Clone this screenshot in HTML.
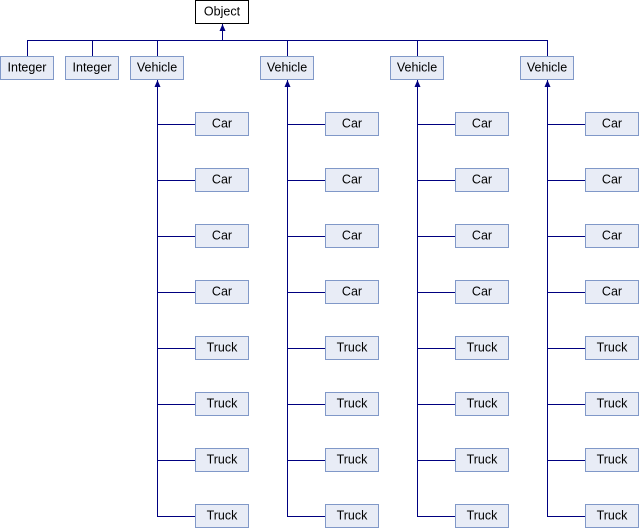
<!DOCTYPE html>
<html><head><style>html,body{margin:0;padding:0;background:#fff}svg{display:block}text{font-family:"Liberation Sans",sans-serif;font-size:12.5px;fill:#000}</style></head><body>
<svg width="640" height="528" viewBox="0 0 640 528" xmlns="http://www.w3.org/2000/svg" shape-rendering="crispEdges">
<defs>
<g id="col">
<line x1="27.5" y1="80" x2="27.5" y2="516" stroke="#000080"/>
<polygon points="27.5,80 24.5,87 30.5,87" fill="#000080" shape-rendering="auto"/>
<rect x="0.5" y="56.5" width="53" height="23" fill="#e8ecf6" stroke="#8098c8"/><text x="27" y="71.5" text-anchor="middle">Vehicle</text>
<g id="car"><line x1="27" y1="124.5" x2="65" y2="124.5" stroke="#000080"/><rect x="65.5" y="112.5" width="53" height="23" fill="#e8ecf6" stroke="#8098c8"/><text x="92" y="127.5" text-anchor="middle">Car</text></g>
<use href="#car" y="56"/><use href="#car" y="112"/><use href="#car" y="168"/>
<g id="truck"><line x1="27" y1="348.5" x2="65" y2="348.5" stroke="#000080"/><rect x="65.5" y="336.5" width="53" height="23" fill="#e8ecf6" stroke="#8098c8"/><text x="92" y="351.5" text-anchor="middle">Truck</text></g>
<use href="#truck" y="56"/><use href="#truck" y="112"/><use href="#truck" y="168"/>
</g>
</defs>
<rect x="195.5" y="0.5" width="53" height="23" fill="#fff" stroke="#000"/><text x="222" y="15.5" text-anchor="middle">Object</text>
<line x1="222.5" y1="24" x2="222.5" y2="40" stroke="#000080"/>
<polygon points="222.5,24 219.5,31 225.5,31" fill="#000080" shape-rendering="auto"/>
<line x1="27" y1="40.5" x2="548" y2="40.5" stroke="#000080"/>
<line x1="27.5" y1="40" x2="27.5" y2="56" stroke="#000080"/>
<line x1="92.5" y1="40" x2="92.5" y2="56" stroke="#000080"/>
<line x1="157.5" y1="40" x2="157.5" y2="56" stroke="#000080"/>
<line x1="287.5" y1="40" x2="287.5" y2="56" stroke="#000080"/>
<line x1="417.5" y1="40" x2="417.5" y2="56" stroke="#000080"/>
<line x1="547.5" y1="40" x2="547.5" y2="56" stroke="#000080"/>
<rect x="0.5" y="56.5" width="53" height="23" fill="#e8ecf6" stroke="#8098c8"/><text x="27" y="71.5" text-anchor="middle">Integer</text>
<rect x="65.5" y="56.5" width="53" height="23" fill="#e8ecf6" stroke="#8098c8"/><text x="92" y="71.5" text-anchor="middle">Integer</text>
<use href="#col" x="130"/>
<use href="#col" x="260"/>
<use href="#col" x="390"/>
<use href="#col" x="520"/>
</svg>
</body></html>
